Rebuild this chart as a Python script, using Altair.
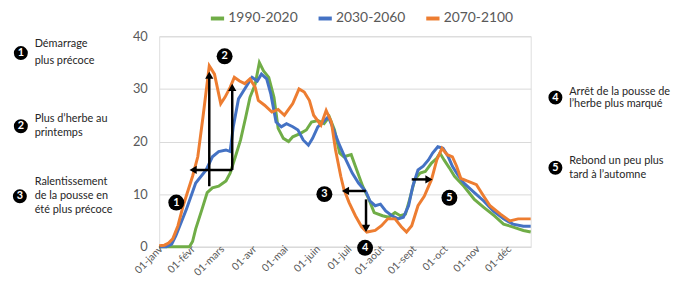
import altair as alt
import pandas as pd

series_names = ["1990-2020", "2030-2060", "2070-2100"]
series_colors = ["#70AD47", "#4472C4", "#ED7D31"]

month_days = [0, 31, 59, 90, 120, 151, 181, 212, 243, 273, 304, 334]
month_labels = ["01-janv", "01-févr", "01-mars", "01-avr", "01-mai", "01-juin",
                "01-juil", "01-août", "01-sept", "01-oct", "01-nov", "01-déc"]

days_green = [0, 29, 32, 35, 41, 46, 51, 57, 64, 68, 73, 78, 83, 87, 92, 96, 100, 105, 110, 114,
              119, 124, 128, 135, 141, 146, 152, 158, 163, 168, 173, 177, 184, 188, 195, 201, 206, 214, 220, 226,
              231, 236, 240, 245, 250, 255, 261, 266, 269, 273, 278, 283, 292, 302, 311, 321, 330, 340, 349, 356]
vals_green = [0, 0, 1.0, 3.4, 7.1, 10.3, 11.2, 11.5, 12.5, 14.0, 17.1, 20.3, 24.7, 28.4, 30.9, 35.0, 33.4, 32.2, 28.4, 22.5,
              20.6, 20.0, 20.9, 21.5, 22.2, 23.7, 24.0, 23.4, 24.7, 22.2, 17.8, 17.1, 17.5, 15.3, 11.5, 9.0, 6.5, 5.9, 5.6, 6.5,
              5.9, 6.2, 9.0, 12.8, 14.0, 14.3, 15.9, 16.8, 17.8, 16.5, 15.0, 13.4, 11.5, 9.0, 7.5, 5.9, 4.3, 3.7, 3.1, 2.8]

days_blue = [0, 7, 12, 16, 26, 35, 45, 51, 57, 64, 68, 71, 76, 83, 89, 94, 98, 103, 107, 112,
             117, 122, 128, 133, 138, 143, 147, 152, 157, 162, 166, 172, 179, 185, 191, 198, 202, 207, 212, 217,
             223, 229, 234, 239, 243, 248, 253, 258, 262, 267, 272, 277, 281, 286, 292, 302, 311, 320, 330, 339, 349, 356]
vals_blue = [0, 0, 0.5, 2.1, 7.1, 12.1, 14.6, 17.1, 18.1, 18.4, 18.1, 22.8, 28.1, 30.3, 32.2, 31.5, 32.8, 31.9, 29.0, 23.7,
             22.8, 23.4, 22.8, 22.2, 20.3, 19.3, 20.6, 22.8, 23.7, 24.7, 22.8, 19.7, 16.5, 14.0, 12.1, 10.5, 8.7, 7.8, 8.1, 6.8,
             5.9, 5.3, 5.6, 7.8, 11.5, 14.6, 15.3, 16.5, 17.8, 19.0, 18.7, 17.1, 15.3, 13.7, 12.1, 10.3, 8.7, 6.8, 5.3, 4.3, 3.9, 3.9]

days_orange = [0, 5, 9, 13, 18, 23, 32, 37, 42, 48, 53, 59, 63, 68, 72, 77, 82, 87, 92, 95,
               101, 108, 114, 120, 128, 134, 139, 144, 148, 155, 160, 165, 169, 174, 177, 182, 188, 194, 199, 207,
               213, 219, 226, 232, 237, 242, 248, 254, 261, 266, 271, 276, 281, 285, 289, 295, 304, 311, 317, 327,
               336, 344, 356]
vals_orange = [0.2, 0.3, 0.7, 1.5, 4.0, 7.8, 13.4, 17.1, 24.7, 34.4, 32.8, 27.2, 28.4, 30.3, 32.2, 31.5, 31.0, 31.9, 30.3, 27.8,
               26.9, 25.6, 26.1, 25.0, 27.2, 30.0, 29.4, 27.8, 25.0, 23.1, 25.9, 23.7, 18.4, 13.4, 10.9, 8.4, 5.9, 3.8, 2.8, 3.1,
               4.0, 5.3, 5.3, 3.8, 2.8, 4.0, 7.8, 9.6, 12.8, 16.5, 18.7, 17.5, 17.1, 15.3, 13.0, 12.5, 11.8, 9.6, 7.8, 6.2,
               4.9, 5.3, 5.3]

# annotation content (in data units)
badge_nums = ["1", "2", "3", "4", "5"]
badge_day = [16.4, 62.7, 158.3, 197.3, 278.1]
badge_val = [8.4, 36.2, 10.0, -0.2, 9.3]

arrow_x = [48, 70, 70, 198, 198.2, 242]
arrow_y = [11.5, 14.6, 14.6, 10.6, 9.0, 12.8]
arrow_x2 = [48, 70, 33, 179, 198.2, 258]
arrow_y2 = [32.5, 30.3, 14.6, 10.6, 3.5, 12.8]
head_x = [48, 70, 32.5, 178.5, 198.2, 258.5]
head_y = [32.6, 30.3, 14.6, 10.6, 3.5, 12.8]
head_shape = ["triangle-up", "triangle-up", "triangle-left", "triangle-left", "triangle-down", "triangle-right"]

# side notes (pixel layout relative to plot origin)
side_badges = ["1", "2", "3", "4", "5"]
side_badge_px = [-140, -140, -141, 401, 401]
side_badge_py = [17, 91, 162, 62, 133]
note_lines = ["Démarrage", "plus précoce", "Plus d’herbe au", "printemps", "Ralentissement",
              "de la pousse en", "été plus précoce", "Arrêt de la pousse de", "l’herbe plus marqué",
              "Rebond un peu plus", "tard à l’automne"]
note_px = [-126, -126, -126, -126, -126, -126, -126, 415, 415, 415, 415]
note_py = [8, 25, 84, 98, 148, 162, 176, 56, 69, 126, 140]

FONT = "Lato"

rows = []
for name, ds, vs in [(series_names[0], days_green, vals_green),
                     (series_names[1], days_blue, vals_blue),
                     (series_names[2], days_orange, vals_orange)]:
    for d, v in zip(ds, vs):
        rows.append({"series": name, "day": d, "value": v})
df = pd.DataFrame(rows)

xscale = alt.Scale(domain=[0, 356], nice=False, zero=False)
yscale = alt.Scale(domain=[0, 40], nice=False)

lines = alt.Chart(df).mark_line(strokeWidth=3, clip=False).encode(
    x=alt.X("day:Q", scale=xscale, title=None,
            axis=alt.Axis(values=month_days, labels=False, grid=False,
                          domainColor="#D9D9D9", tickColor="#D9D9D9", tickSize=4)),
    y=alt.Y("value:Q", scale=yscale, title=None,
            axis=alt.Axis(values=list(range(0, 41, 5)), grid=True, gridColor="#D9D9D9",
                          domain=False, ticks=False, labelFontSize=13, labelColor="#595959",
                          labelPadding=12, labelFont=FONT)),
    color=alt.Color("series:N", scale=alt.Scale(domain=series_names, range=series_colors),
                    legend=alt.Legend(orient="none", legendX=50, legendY=-27, direction="horizontal",
                                      title=None, symbolType="stroke", symbolStrokeWidth=4,
                                      symbolSize=180, labelFontSize=14, labelColor="#595959",
                                      labelFont=FONT, labelOffset=2, columnPadding=12)),
    order=alt.Order("day:Q"),
)

months_df = pd.DataFrame({"day": month_days, "label": month_labels})
month_text = alt.Chart(months_df).mark_text(angle=315, align="right", baseline="middle",
                                            fontSize=10.5, font=FONT, color="#595959",
                                            dx=3, clip=False).encode(
    x=alt.X("day:Q", scale=xscale), y=alt.value(216), text="label:N")

arrows_df = pd.DataFrame({"x": arrow_x, "y": arrow_y, "x2": arrow_x2, "y2": arrow_y2})
shafts = alt.Chart(arrows_df).mark_rule(color="black", strokeWidth=2.5).encode(
    x=alt.X("x:Q", scale=xscale), y=alt.Y("y:Q", scale=yscale),
    x2="x2:Q", y2="y2:Q")

heads_df = pd.DataFrame({"x": head_x, "y": head_y, "shape": head_shape})
heads = alt.Chart(heads_df).mark_point(filled=True, color="black", size=70, opacity=1).encode(
    x=alt.X("x:Q", scale=xscale), y=alt.Y("y:Q", scale=yscale),
    shape=alt.Shape("shape:N", scale=None))

badges_df = pd.DataFrame({"n": badge_nums, "x": badge_day, "y": badge_val})
badges = alt.Chart(badges_df).mark_circle(color="black", size=260, opacity=1, clip=False).encode(
    x=alt.X("x:Q", scale=xscale), y=alt.Y("y:Q", scale=yscale))
badge_txt = alt.Chart(badges_df).mark_text(color="white", fontSize=11, fontWeight="bold",
                                           font=FONT, clip=False).encode(
    x=alt.X("x:Q", scale=xscale), y=alt.Y("y:Q", scale=yscale), text="n:N")

side_df = pd.DataFrame({"n": side_badges, "px": side_badge_px, "py": side_badge_py})
side_badges_l = alt.Chart(side_df).mark_circle(color="black", size=200, opacity=1).encode(
    x=alt.X("px:Q", scale=None), y=alt.Y("py:Q", scale=None))
side_badge_txt = alt.Chart(side_df).mark_text(color="white", fontSize=11, fontWeight="bold",
                                              font=FONT).encode(
    x=alt.X("px:Q", scale=None), y=alt.Y("py:Q", scale=None), text="n:N")

notes_df = pd.DataFrame({"t": note_lines, "px": note_px, "py": note_py})
notes = alt.Chart(notes_df).mark_text(color="#262626", fontSize=11, font=FONT, align="left",
                                      baseline="middle").encode(
    x=alt.X("px:Q", scale=None), y=alt.Y("py:Q", scale=None), text="t:N")

chart = alt.layer(lines, month_text, shafts, heads, badges, badge_txt,
                  side_badges_l, side_badge_txt, notes).properties(
    width=376, height=213,
    padding={"left": 153, "top": 27, "right": 143, "bottom": 31},
    autosize=alt.AutoSizeParams(type="none"),
).configure_view(stroke=None).configure(font=FONT, background="white")

chart.save("out.html", embed_options={"renderer": "svg", "actions": False})
